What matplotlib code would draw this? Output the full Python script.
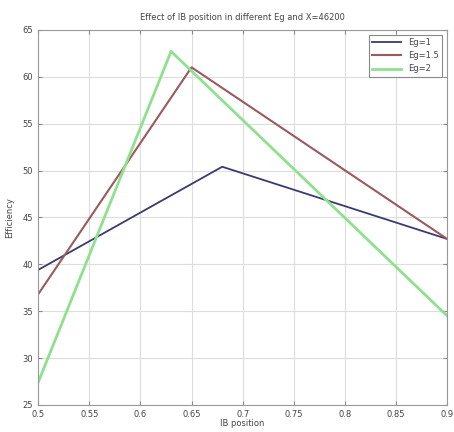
import numpy as np
import matplotlib
matplotlib.use('Agg')
import matplotlib.pyplot as plt

#%% Data
ib_pos_eg1 = [0.5, 0.68, 0.9]
eff_eg1 = [39.4, 50.4, 42.7]

ib_pos_eg15 = [0.5, 0.65, 0.9]
eff_eg15 = [36.8, 61.0, 42.7]

ib_pos_eg2 = [0.5, 0.63, 0.9]
eff_eg2 = [27.4, 62.7, 34.5]

x_ticks = [0.5, 0.55, 0.6, 0.65, 0.7, 0.75, 0.8, 0.85, 0.9]
x_ticklabels = ['0.5', '0.55', '0.6', '0.65', '0.7', '0.75', '0.8', '0.85', '0.9']
y_ticks = [25, 30, 35, 40, 45, 50, 55, 60, 65]

#%% Plot
fig = plt.figure(figsize=(4.54, 4.32), dpi=100)
ax = fig.add_axes([0.084, 0.0625, 0.901, 0.8685])

ax.plot(ib_pos_eg1, eff_eg1, color='#3a3a72', lw=1.3, label='Eg=1')
ax.plot(ib_pos_eg15, eff_eg15, color='#9a5a5e', lw=1.5, label='Eg=1.5')
ax.plot(ib_pos_eg2, eff_eg2, color='#8fe08f', lw=2.0, label='Eg=2')

ax.set_xlim(0.5, 0.9)
ax.set_ylim(25, 65)
ax.set_xticks(x_ticks)
ax.set_xticklabels(x_ticklabels)
ax.set_yticks(y_ticks)
ax.tick_params(direction='in', labelsize=6, length=3, color='#888888',
               labelcolor='#444444', top=True, right=True)
ax.grid(True, color='#dddddd', lw=0.8)
for s in ax.spines.values():
    s.set_color('#999999')

ax.set_title('Effect of IB position in different Eg and X=46200', fontsize=6,
             color='#444444', pad=7)
ax.set_xlabel('IB position', fontsize=6, color='#444444', labelpad=0)
ax.set_ylabel('Efficiency', fontsize=6, color='#444444', labelpad=6)

leg = ax.legend(loc='upper right', fontsize=6, handlelength=3.5, fancybox=False,
                framealpha=1, borderaxespad=0.6)
leg.get_frame().set_edgecolor('#888888')
leg.get_frame().set_linewidth(0.8)
for t in leg.get_texts():
    t.set_color('#444444')

fig.savefig('out.png', dpi=100)
